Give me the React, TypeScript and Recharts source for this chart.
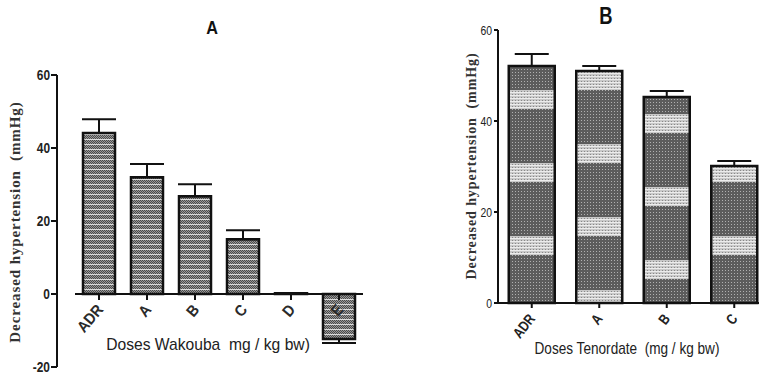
import React from 'react';
import { BarChart, Bar, XAxis, YAxis, ErrorBar, ReferenceLine, Cell } from 'recharts';

// panel A – Wakouba
const categoriesA = ['ADR', 'A', 'B', 'C', 'D', 'E'];
const valuesA = [44.1, 32.0, 26.8, 15.0, 0.2, -12.3];
const errUpA = [3.8, 3.6, 3.3, 2.5, 0, 0];
const errDownA = [0, 0, 0, 0, 0, 1.1];
const ticksA = [-20, 0, 20, 40, 60];

// panel B – Tenordate
const categoriesB = ['ADR', 'A', 'B', 'C'];
const valuesB = [52.1, 51.0, 45.3, 30.1];
const errUpB = [2.6, 1.1, 1.3, 1.1];
const ticksB = [0, 20, 40, 60];

const dataA = categoriesA.map((name, i) => ({
  name,
  value: valuesA[i],
  err: [errDownA[i], errUpA[i]],
}));
const dataB = categoriesB.map((name, i) => ({
  name,
  value: valuesB[i],
  err: [0, errUpB[i]],
}));

const domainA: [number, number] = [-20, 60];
const plotHA = 292;
const zeroShiftA = (plotHA * (0 - domainA[0])) / (domainA[1] - domainA[0]);
const gapA = 18; // GraphPad-style offset between y axis and x axis start

const patternsB = ['patB17', 'patB71', 'patB41', 'patB17'];
const sans = "'Liberation Sans', Arial, sans-serif";
const serif = "'Liberation Serif', 'Times New Roman', serif";

const TickA = ({ x, y, payload }: any) => {
  const y0 = y - zeroShiftA;
  const tx = x + 5;
  const ty = y0 + 16;
  return (
    <g>
      <line x1={x} x2={x} y1={y0} y2={y0 + 6} stroke="#111" strokeWidth={2} />
      <text
        x={0}
        y={0}
        textAnchor="end"
        transform={`translate(${tx} ${ty}) rotate(-50) scale(0.95 1.05)`}
        fontSize={15}
        fontWeight={700}
        fontFamily={sans}
        fill="#2a2a2a"
      >
        {payload.value}
      </text>
    </g>
  );
};

const TickB = ({ x, y, payload }: any) => {
  const tx = x + 4;
  const ty = y + 9;
  return (
    <text
      x={0}
      y={0}
      textAnchor="end"
      transform={`translate(${tx} ${ty}) rotate(-52) scale(0.85 1.05)`}
      fontSize={14}
      fontWeight={700}
      fontFamily={sans}
      fill="#222"
    >
      {payload.value}
    </text>
  );
};

const makeYTick = (size: number, weight: number, sx: number) => ({ x, y, payload }: any) => (
  <text
    x={0}
    y={0}
    dy={size * 0.35}
    textAnchor="end"
    transform={`translate(${x} ${y}) scale(${sx} 1)`}
    fontSize={size}
    fontWeight={weight}
    fontFamily={sans}
    fill="#222"
  >
    {payload.value}
  </text>
);
const TickYA = makeYTick(14, 700, 0.85);
const TickYB = makeYTick(13, 400, 0.8);

const ZeroLineA = (props: any) => (
  <line x1={props.x1 + gapA} x2={props.x2} y1={props.y1} y2={props.y2} stroke="#111" strokeWidth={2} />
);

const Patterns = () => (
  <svg width={0} height={0} style={{ position: 'absolute' }}>
    <defs>
      <pattern id="patA" patternUnits="userSpaceOnUse" width={4} height={5}>
        <rect width={4} height={5} fill="#9a9a9a" />
        <rect x={0} y={0} width={1} height={1} fill="#4a4a4a" />
        <rect x={2} y={0} width={1} height={1} fill="#4a4a4a" />
        <rect x={1} y={1} width={1} height={1} fill="#4a4a4a" />
        <rect x={3} y={1} width={1} height={1} fill="#4a4a4a" />
        <rect x={0} y={2} width={1} height={1} fill="#4a4a4a" />
        <rect x={2} y={2} width={1} height={1} fill="#4a4a4a" />
        <rect x={1} y={3} width={1} height={1} fill="#4a4a4a" />
        <rect x={3} y={3} width={1} height={1} fill="#4a4a4a" />
        <rect x={0} y={4} width={4} height={1} fill="#dcdcdc" />
      </pattern>
      <pattern id="dotsDark" patternUnits="userSpaceOnUse" width={3} height={3}>
        <rect width={3} height={3} fill="#5c5c5c" />
        <rect x={1} y={1} width={1} height={1} fill="#b0b0b0" />
      </pattern>
      <pattern id="dotsLight" patternUnits="userSpaceOnUse" width={3} height={3}>
        <rect width={3} height={3} fill="#c8c8c8" />
        <rect x={1} y={1} width={1} height={1} fill="#888" />
        <rect x={0} y={2} width={3} height={1} fill="#ececec" />
      </pattern>
      {[['patB17', 17], ['patB71', 71], ['patB41', 41]].map(([id, off]) => (
        <pattern
          key={id as string}
          id={id as string}
          patternUnits="userSpaceOnUse"
          width={3}
          height={73}
          patternTransform={`translate(0 ${off})`}
        >
          <rect width={3} height={73} fill="url(#dotsDark)" />
          <rect width={3} height={19} fill="url(#dotsLight)" />
        </pattern>
      ))}
    </defs>
  </svg>
);

const abs = (style: React.CSSProperties): React.CSSProperties => ({ position: 'absolute', whiteSpace: 'nowrap', ...style });

export default function App() {
  return (
    <div style={{ position: 'absolute', left: 0, top: 0, width: 759, height: 376, overflow: 'hidden', background: '#fff' }}>
      <Patterns />

      {/* Panel A */}
      <div style={abs({ left: 0, top: 0 })}>
        <BarChart width={380} height={376} data={dataA} margin={{ top: 75, right: 17, bottom: 8, left: 0 }} barCategoryGap={8}>
          <XAxis
            dataKey="name"
            height={1}
            axisLine={false}
            tickLine={false}
            tickSize={0}
            tickMargin={0}
            padding={{ left: gapA, right: 0 }}
            interval={0}
            tick={<TickA />}
          />
          <YAxis
            width={57}
            domain={domainA}
            ticks={ticksA}
            interval={0}
            axisLine={{ stroke: '#111', strokeWidth: 2 }}
            tickLine={{ stroke: '#111', strokeWidth: 2 }}
            tickSize={6}
            tickMargin={1}
            tick={<TickYA />}
          />
          <ReferenceLine y={0} shape={<ZeroLineA />} />
          <Bar dataKey="value" fill="url(#patA)" stroke="#111" strokeWidth={2.5} isAnimationActive={false}>
            <ErrorBar dataKey="err" width={17} stroke="#111" strokeWidth={2} direction="y" />
          </Bar>
        </BarChart>
      </div>
      <div style={abs({ left: 212, top: 18, transform: 'translateX(-50%) scaleX(0.9)', fontFamily: sans, fontWeight: 700, fontSize: 18, color: '#111' })}>A</div>
      <div style={abs({ left: 208, top: 335, transform: 'translateX(-50%) scaleX(0.92)', fontFamily: sans, fontSize: 17, color: '#222' })}>
        Doses Wakouba&nbsp; mg / kg bw)
      </div>
      <div style={abs({ left: 15, top: 222, transform: 'translate(-50%, -50%) rotate(-90deg)', fontFamily: serif, fontWeight: 700, fontSize: 15, letterSpacing: 0.9, color: '#333' })}>
        Decreased hypertension&nbsp; (mmHg)
      </div>

      {/* Panel B */}
      <div style={abs({ left: 400, top: 0 })}>
        <BarChart width={370} height={376} data={dataB} margin={{ top: 30, right: 2, bottom: 0, left: 0 }} barCategoryGap={10.75}>
          <XAxis
            dataKey="name"
            height={73}
            axisLine={{ stroke: '#111', strokeWidth: 2 }}
            tickLine={{ stroke: '#111', strokeWidth: 2 }}
            tickSize={5}
            tickMargin={2}
            interval={0}
            tick={<TickB />}
          />
          <YAxis
            width={98}
            domain={[0, 60]}
            ticks={ticksB}
            interval={0}
            axisLine={{ stroke: '#111', strokeWidth: 2 }}
            tickLine={{ stroke: '#111', strokeWidth: 2 }}
            tickSize={4}
            tickMargin={2}
            tick={<TickYB />}
          />
          <Bar dataKey="value" stroke="#111" strokeWidth={2.5} isAnimationActive={false}>
            {dataB.map((d, i) => (
              <Cell key={d.name} fill={`url(#${patternsB[i]})`} />
            ))}
            <ErrorBar dataKey="err" width={17} stroke="#111" strokeWidth={2} direction="y" />
          </Bar>
        </BarChart>
      </div>
      <div style={abs({ left: 606, top: 3, transform: 'translateX(-50%) scaleX(0.8)', fontFamily: sans, fontWeight: 700, fontSize: 23, color: '#111' })}>B</div>
      <div style={abs({ left: 627, top: 339, transform: 'translateX(-50%) scaleX(0.8)', fontFamily: sans, fontSize: 17, color: '#222' })}>
        Doses Tenordate&nbsp; (mg / kg bw)
      </div>
      <div style={abs({ left: 472, top: 166, transform: 'translate(-50%, -50%) rotate(-90deg)', fontFamily: serif, fontWeight: 700, fontSize: 14, letterSpacing: 0.9, color: '#333' })}>
        Decreased hypertension&nbsp; (mmHg)
      </div>
    </div>
  );
}
